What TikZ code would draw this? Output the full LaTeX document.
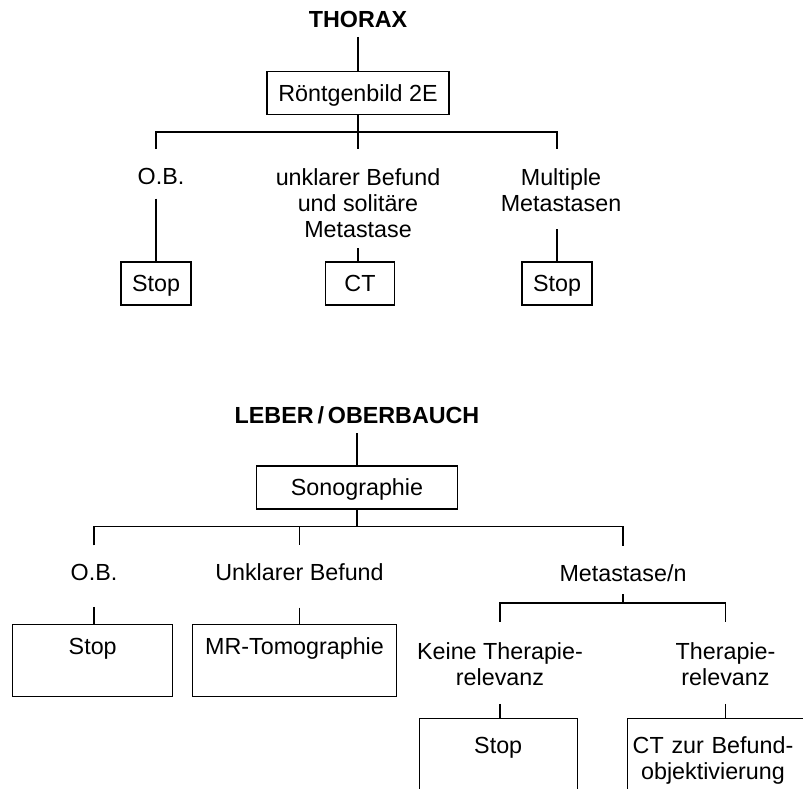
\documentclass[tikz,border=0pt]{standalone}
\usepackage{fontspec}
\setmainfont{Liberation Sans}
\usepackage{tikz}
\tikzset{chart/.style={x=1pt, y=-1pt, line width=1.1pt, every node/.style={font=\fontsize{23.3}{26}\selectfont}}}
\tikzset{ttl/.style={inner sep=0pt, anchor=base, font=\fontsize{23.3}{26}\selectfont\bfseries}}
\tikzset{lbl/.style={inner sep=0pt, anchor=north, align=center}}
\tikzset{bx/.style={draw, inner sep=0pt, text height=16.6pt, text depth=0pt, minimum height=43pt, align=center}}
\tikzset{bxtop/.style args={#1 and #2}{draw, inner sep=0pt, anchor=north, text height=#1, text depth=#2, align=center}}

\begin{document}
\begin{tikzpicture}[chart]
	\useasboundingbox (0,0) rectangle (803,788);
	\clip (0,0) rectangle (803,788);
	% Thorax
	\node[ttl] (thorax) at (358,27) {THORAX};
	\node[bx, minimum width=182pt] (roent) at (358,92.7) {Röntgenbild 2E};
	\coordinate (bar1) at (358,132);
	\node[lbl] (ob1) at (161,168) {O.B.};
	\node[lbl] (unkl1) at (358,168) {unklarer Befund\\und solitäre\\Metastase};
	\node[lbl] (mult1) at (561,168) {Multiple\\Metastasen};
	\node[bx, minimum width=70pt] (stop1) at (156,283.5) {Stop};
	\node[bx, minimum width=69pt] (ct1) at (360,283.5) {CT};
	\node[bx, minimum width=70pt] (stop2) at (557,283.5) {Stop};
	%
	\draw[shorten <=9pt] (thorax.south) -- (roent.north);
	\draw[shorten >=19pt] (roent.south) -- (unkl1.north);
	\draw[shorten <=19pt, shorten >=19pt] (stop1.north |- ob1.north) |- (bar1) -| (stop2.north |- mult1.north);
	\draw[shorten <=13pt] (stop1.north |- ob1.south) -- (stop1.north);
	\draw[shorten <=10pt] (unkl1.south) -- (unkl1.south |- ct1.north);
	\draw[shorten <=17pt] (stop2.north |- mult1.south) -- (stop2.north);
	% Leber / Oberbauch
	\node[ttl] (leber) at (357,423.3) {LEBER\,/\,OBERBAUCH};
	\node[bx, minimum width=201pt] (sono) at (357,487.5) {Sonographie};
	\coordinate (bar2) at (357,526.7);
	\node[lbl] (ob2) at (94,563.3) {O.B.};
	\node[lbl] (unkl2) at (299.5,563.3) {Unklarer Befund};
	\node[lbl] (meta2) at (623,564) {Metastase/n};
	\node[bxtop={29.6pt and 42.4pt}, minimum width=160pt] (stop3) at (92.7,624) {Stop};
	\node[bxtop={29.6pt and 42.4pt}, minimum width=204.4pt] (mrt) at (294.5,624) {MR-Tomographie};
	%
	\draw[shorten <=9pt] (leber.south) -- (sono.north);
	\draw (sono.south) -- (bar2);
	\draw[shorten <=18pt, shorten >=18pt] (ob2.north) |- (bar2) -| (meta2.north);
	\draw[shorten >=18pt] (bar2 -| unkl2.north) -- (unkl2.north);
	\draw[shorten <=26pt] (ob2.south) -- (ob2.south |- stop3.north);
	\draw[shorten <=26pt] (unkl2.south) -- (unkl2.south |- mrt.north);
	% Metastasen
	\coordinate (bar3) at (623,603);
	\node[lbl] (keine) at (500,641.7) {Keine Therapie-\\relevanz};
	\node[lbl] (ther) at (725.5,641.7) {Therapie-\\relevanz};
	\node[bxtop={35pt and 80pt}, minimum width=158.3pt] (stop4) at (498.2,718.3) {Stop};
	\node[inner sep=0pt, anchor=north, text width=170.6pt, align=center, text height=35pt, text depth=80pt] (ctobj) at (713,718.3) {CT zur Befund-\\objektivierung};
	\draw (ctobj.north west) rectangle ([xshift=60pt]ctobj.south east);
	%
	\draw[shorten <=12pt] (meta2.south) -- (bar3);
	\draw[shorten <=20pt, shorten >=20pt] (keine.north) |- (bar3) -| (ther.north);
	\draw[shorten <=18pt] (keine.south) -- (keine.south |- stop4.north);
	\draw[shorten <=18pt] (ther.south) -- (ther.south |- ctobj.north);
\end{tikzpicture}
\end{document}
